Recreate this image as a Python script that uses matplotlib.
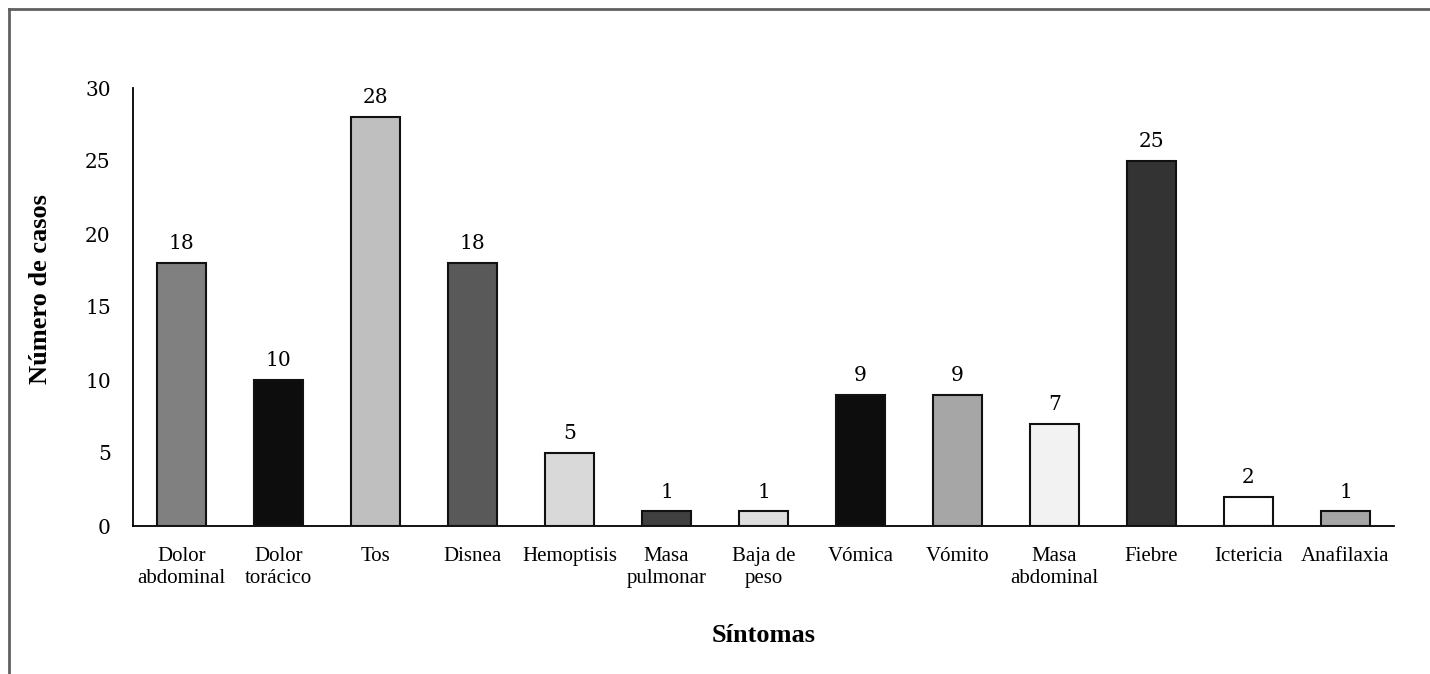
import matplotlib.pyplot as plt
from matplotlib.lines import Line2D

categories = ["Dolor\nabdominal", "Dolor\ntorácico", "Tos", "Disnea", "Hemoptisis",
              "Masa\npulmonar", "Baja de\npeso", "Vómica", "Vómito", "Masa\nabdominal",
              "Fiebre", "Ictericia", "Anafilaxia"]
casos = [18, 10, 28, 18, 5, 1, 1, 9, 9, 7, 25, 2, 1]
bar_colors = ["#808080", "#0d0d0d", "#bfbfbf", "#595959", "#d9d9d9", "#404040", "#dedede",
              "#0d0d0d", "#a6a6a6", "#f2f2f2", "#333333", "#ffffff", "#a6a6a6"]
yticks = [0, 5, 10, 15, 20, 25, 30]

W, H = 1430, 674
fig = plt.figure(figsize=(W / 100, H / 100), dpi=100)
ax = fig.add_axes([133 / W, 1 - 526 / H, (1394 - 133) / W, (526 - 88) / H])

x = range(len(categories))
ax.bar(x, casos, width=0.5, color=bar_colors, edgecolor="#111111", linewidth=1.5, zorder=3)

for i, v in enumerate(casos):
    ax.annotate(str(v), (i, v), xytext=(0, 7), textcoords="offset points",
                ha="center", va="bottom", fontsize=14.5, family="DejaVu Serif")

ax.set_xlim(-0.5, len(categories) - 0.5)
ax.set_ylim(0, 30)
ax.set_yticks(yticks)
ax.set_yticklabels([str(t) for t in yticks], family="DejaVu Serif", fontsize=14.5)
ax.set_xticks(list(x))
ax.set_xticklabels(categories, family="Liberation Serif", fontsize=15, linespacing=1.2)
ax.tick_params(axis="both", length=0)
ax.tick_params(axis="y", pad=16)
ax.tick_params(axis="x", pad=15)

for s in ["top", "right"]:
    ax.spines[s].set_visible(False)
ax.spines["left"].set_linewidth(1.3)
ax.spines["bottom"].set_linewidth(1.3)

ax.set_ylabel("Número de casos", family="Liberation Serif", fontsize=19, fontweight="bold")
ax.yaxis.set_label_coords(-0.064, 0.54)
ax.set_xlabel("Síntomas", family="Liberation Serif", fontsize=19, fontweight="bold", labelpad=26)

# outer frame (only top and left visible in the crop)
fig.add_artist(Line2D([8.5 / W, 1], [1 - 8.5 / H, 1 - 8.5 / H], color="#606060", linewidth=2))
fig.add_artist(Line2D([8.5 / W, 8.5 / W], [0, 1 - 8.5 / H], color="#606060", linewidth=2))

fig.savefig("out.png", dpi=100)
